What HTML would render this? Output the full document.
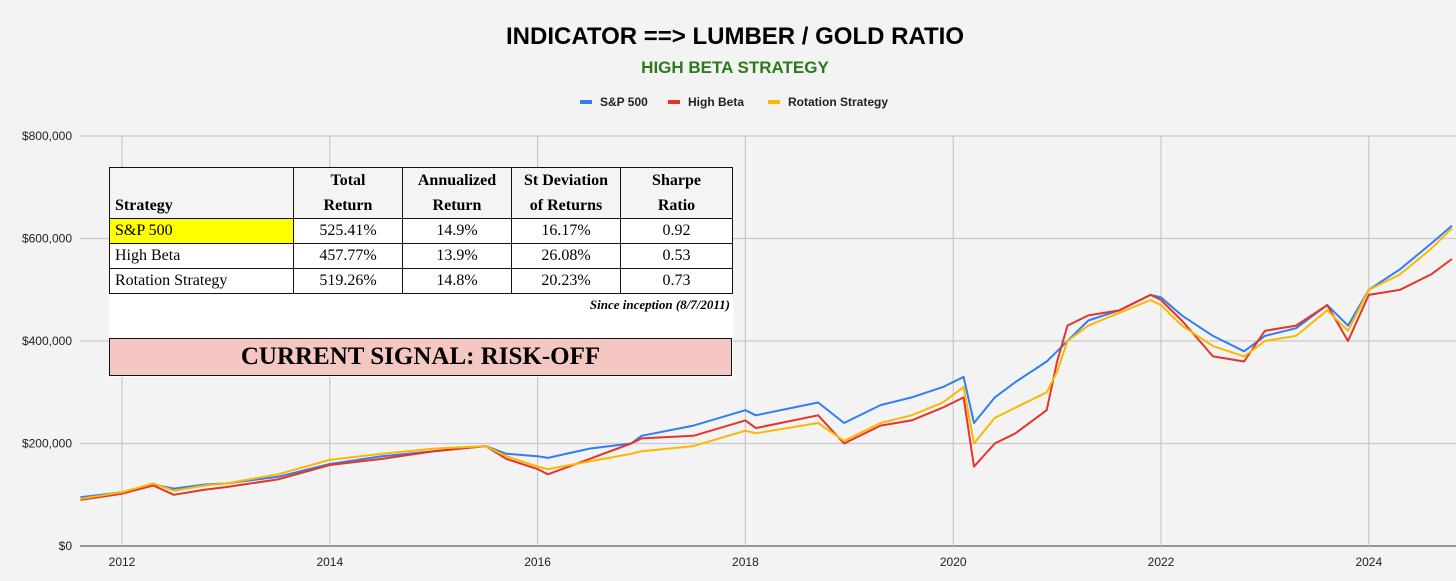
<!DOCTYPE html>
<html><head><meta charset="utf-8"><style>
body{margin:0;background:#f3f3f3;}
#wrap{position:relative;width:1456px;height:581px;overflow:hidden;background:#f3f3f3;font-family:"Liberation Sans",sans-serif;}
svg{position:absolute;left:0;top:0;}
#tbl{position:absolute;left:109px;top:167px;width:624px;height:210px;background:#fff;font-family:"Liberation Serif",serif;}
#tbl table{border-collapse:collapse;width:624px;font-size:16px;}
#tbl td{border:1.5px solid #111;padding:0 5px;height:24px;}
#tbl tr.h td{height:47px;background:#f4f4f4;font-weight:bold;text-align:center;vertical-align:bottom;line-height:25px;}
#tbl td.c{text-align:center;}
#since{position:absolute;right:3px;top:130px;font-style:italic;font-weight:bold;font-size:13px;}
#signal{position:absolute;left:0;top:171px;width:621px;height:36px;background:#f4c7c3;border:1.5px solid #111;text-align:center;font-weight:bold;font-size:25px;line-height:36px;}
</style></head><body>
<div id="wrap">
<svg id="chart" width="1456" height="581"></svg>
<div id="tbl">
<table>
<tr class="h"><td style="text-align:left;width:173px">Strategy</td><td style="width:98px">Total<br>Return</td><td style="width:98px">Annualized<br>Return</td><td style="width:98px">St Deviation<br>of Returns</td><td>Sharpe<br>Ratio</td></tr>
<tr><td style="background:#ffff00">S&amp;P 500</td><td class="c">525.41%</td><td class="c">14.9%</td><td class="c">16.17%</td><td class="c">0.92</td></tr>
<tr><td>High Beta</td><td class="c">457.77%</td><td class="c">13.9%</td><td class="c">26.08%</td><td class="c">0.53</td></tr>
<tr><td>Rotation Strategy</td><td class="c">519.26%</td><td class="c">14.8%</td><td class="c">20.23%</td><td class="c">0.73</td></tr>
</table>
<div id="since">Since inception (8/7/2011)</div>
<div id="signal">CURRENT SIGNAL: RISK-OFF</div>
</div>
</div>
<script>
const dates=[2011.6,2012.0,2012.3,2012.5,2012.8,2013.0,2013.5,2014.0,2014.5,2015.0,2015.5,2015.7,2016.0,2016.1,2016.5,2016.9,2017.0,2017.5,2018.0,2018.1,2018.7,2018.95,2019.3,2019.6,2019.9,2020.1,2020.2,2020.4,2020.6,2020.9,2021.0,2021.1,2021.3,2021.6,2021.9,2022.0,2022.2,2022.5,2022.8,2023.0,2023.3,2023.6,2023.8,2024.0,2024.3,2024.6,2024.8];
const sp500=[95,105,120,112,120,122,135,160,175,185,195,180,175,172,190,200,215,235,265,255,280,240,275,290,310,330,240,290,320,360,380,400,440,460,490,485,450,410,380,410,425,470,430,500,540,590,625];
const highBeta=[90,102,118,100,110,115,130,158,170,185,195,170,150,140,170,200,210,215,245,230,255,200,235,245,270,290,155,200,220,265,360,430,450,460,490,480,440,370,360,420,430,470,400,490,500,530,560];
const rotation=[92,105,122,108,118,122,140,168,180,190,195,175,155,150,165,180,185,195,225,220,240,205,240,255,280,310,200,250,270,300,340,400,430,455,480,470,430,390,370,400,410,460,420,500,530,580,620];
const yTicks=[0,200,400,600,800];
const xTicks=[2012,2014,2016,2018,2020,2022,2024];
const NS="http://www.w3.org/2000/svg";
const svg=document.getElementById('chart');
const xS=t=>122+(t-2012)*103.9;
const yS=v=>546-v*410/800;
function mk(tag,attrs,parent){const e=document.createElementNS(NS,tag);for(const k in attrs)e.setAttribute(k,attrs[k]);(parent||svg).appendChild(e);return e;}
yTicks.forEach(v=>{
  const l=mk('line',{x1:80,x2:1456,y1:yS(v),y2:yS(v),stroke:v===0?'#333':'#c8c8c8','stroke-width':v===0?1:1.2});
  
  
  const t=mk('text',{x:72,y:yS(v)+4,'text-anchor':'end','font-size':12,fill:'#222'});
  t.textContent='$'+(v===0?'0':v+',000');
  
  
});
xTicks.forEach(yr=>{
  const l=mk('line',{x1:xS(yr),x2:xS(yr),y1:136,y2:546,stroke:'#c8c8c8','stroke-width':1.2});
  
  
  const t=mk('text',{x:xS(yr),y:566,'text-anchor':'middle','font-size':12,fill:'#222'});
  t.textContent=yr;
  
  
});
const series=[['sp500-line',sp500,'#2f7ef5'],['high-beta-line',highBeta,'#e8332a'],['rotation-line',rotation,'#fbb800']];
series.forEach(([n,vals,c])=>{
  const d=vals.map((v,i)=>(i?'L':'M')+xS(dates[i]).toFixed(1)+' '+yS(v).toFixed(1)).join(' ');
  const p=mk('path',{d:d,fill:'none',stroke:c,'stroke-width':2,'stroke-linejoin':'round'});
  
  
});
let t=mk('text',{x:735,y:44,'text-anchor':'middle','font-size':24,'font-weight':'bold',fill:'#000'});
t.textContent='INDICATOR ==> LUMBER / GOLD RATIO';


t=mk('text',{x:735,y:73,'text-anchor':'middle','font-size':17,'font-weight':'bold',fill:'#2b7a1b'});
t.textContent='HIGH BETA STRATEGY';


const legend=[['S&P 500','#2f7ef5',580],['High Beta','#e8332a',668],['Rotation Strategy','#fbb800',768]];
legend.forEach(([lab,c,x])=>{
  const g=mk('g',{});
  
  
  mk('rect',{x:x,y:100,width:12,height:4,fill:c},g);
  const tx=mk('text',{x:x+20,y:106,'font-size':12,'font-weight':'bold',fill:'#222'},g);
  tx.textContent=lab;
});
</script>
</body></html>
